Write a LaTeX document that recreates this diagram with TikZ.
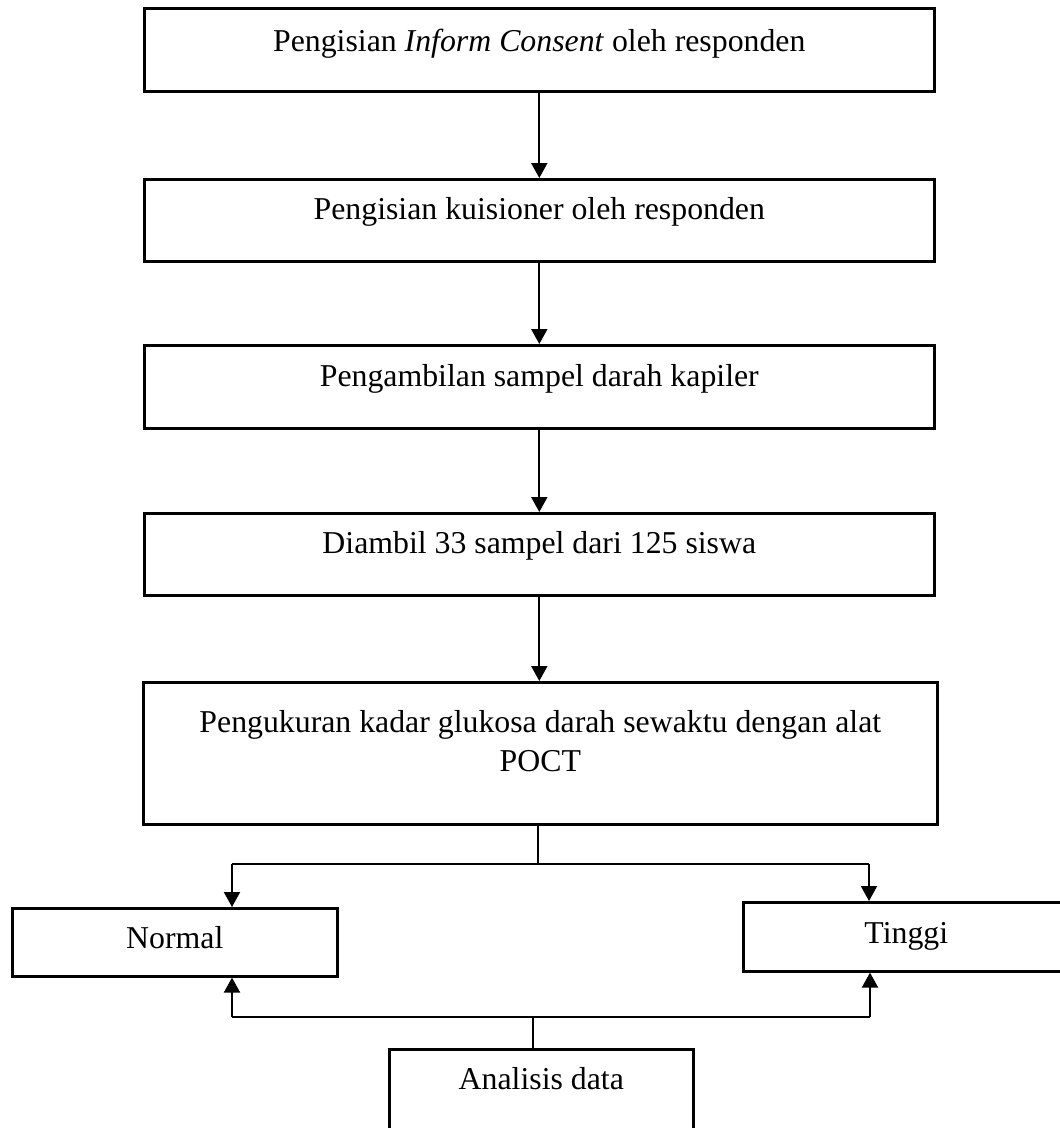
\documentclass[tikz,border=0pt]{standalone}
\usepackage{fontspec}
\setmainfont{Liberation Serif}
\usetikzlibrary{arrows.meta}
\begin{document}
\begin{tikzpicture}[x=1pt,y=-1pt,
  box/.style={draw, line width=2.6pt, inner sep=0pt, anchor=north west,
    font=\fontsize{31.8}{39}\selectfont},
  arr/.style={line width=2pt, -{Triangle[length=15pt,width=16pt]}},
  thinline/.style={line width=1.1pt}]
\useasboundingbox (0,0) rectangle (1060,1128);
\fill[white] (0,0) rectangle (1060,1128);

\node[box, minimum width=790pt, text height=43pt, text depth=40pt] (b1) at (143,7)
  {Pengisian \textit{Inform Consent} oleh responden};
\node[box, minimum width=790pt, text height=40pt, text depth=42pt] (b2) at (143,178)
  {Pengisian kuisioner oleh responden};
\node[box, minimum width=790pt, text height=41pt, text depth=42pt] (b3) at (143,344)
  {Pengambilan sampel darah kapiler};
\node[box, minimum width=790pt, text height=40pt, text depth=42pt] (b4) at (143,512)
  {Diambil 33 sampel dari 125 siswa};
\node[box, minimum width=794pt, text height=50pt, text depth=92pt] (b5) at (142,681)
  {\begin{tabular}[t]{@{}c@{}}Pengukuran kadar glukosa darah sewaktu dengan alat\\ POCT\end{tabular}};
\node[box, minimum width=325pt, text height=40pt, text depth=28pt] (nrm) at (11,907) {Normal};
\node[box, minimum width=326pt, text height=41pt, text depth=28pt] (tgi) at (742,901) {Tinggi};
\node[box, minimum width=304pt, text height=40pt, text depth=43pt] (ana) at (388,1048) {Analisis data};

\draw[arr] (b1.south) -- (b2.north);
\draw[arr] (b2.south) -- (b3.north);
\draw[arr] (b3.south) -- (b4.north);
\draw[arr] (b4.south) -- (b4.south |- b5.north);

\coordinate (jt) at (538,864);
\coordinate (jl) at (232,864);
\coordinate (jr) at (869,864);
\draw[thinline] (jt |- b5.south) -- (jt);
\draw[thinline] (jl) -- (jr);
\draw[arr] (jl) -- (jl |- nrm.north);
\draw[arr] (jr) -- (jr |- tgi.north);

\coordinate (kl) at (232,1017);
\coordinate (kr) at (870,1017);
\coordinate (ka) at (533,1017);
\draw[thinline] (kl) -- (kr);
\draw[arr] (kl) -- (kl |- nrm.south);
\draw[arr] (kr) -- (kr |- tgi.south);
\draw[thinline] (ka) -- (ka |- ana.north);
\end{tikzpicture}
\end{document}
